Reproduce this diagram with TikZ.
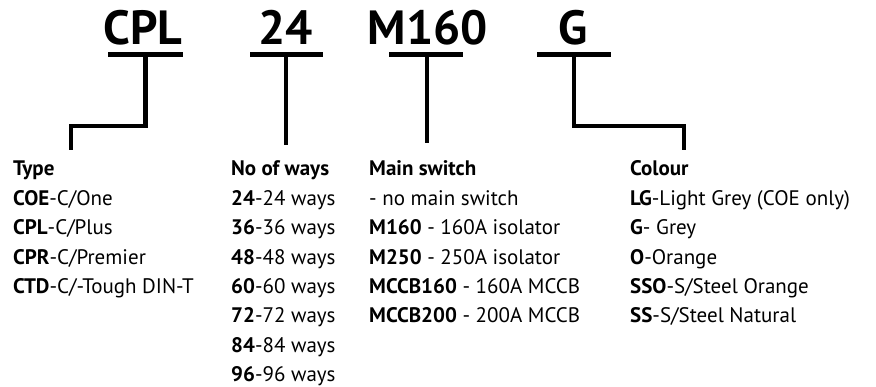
\documentclass[tikz,border=0pt]{standalone}
\usepackage{fontspec}
\setmainfont{PT Sans}
\begin{document}
\begin{tikzpicture}[x=1pt,y=-1pt,
  code/.style={font=\fontsize{48}{48}\selectfont\bfseries, inner sep=0pt, anchor=base},
  txt/.style={font=\fontsize{21}{21}\selectfont, inner sep=0pt, anchor=base west},
  bar/.style={line width=5pt},
  conn/.style={line width=4.5pt, line cap=butt, line join=miter}]
\useasboundingbox (0,0) rectangle (876,387);
% codes
\node[code] (cpl) at (143,45) {CPL};
\node[code] (ways) at (285.5,45) {24};
\node[code] (sw) at (428,45) {M160};
\node[code] (col) at (573.5,45) {G};
% bars
\coordinate (b1l) at (108,55); \coordinate (b1r) at (183,55);
\coordinate (b2l) at (250,55); \coordinate (b2r) at (323,55);
\coordinate (b3l) at (389,55); \coordinate (b3r) at (463,55);
\coordinate (b4l) at (537,55); \coordinate (b4r) at (611,55);
\draw[bar] (b1l) -- (b1r);
\draw[bar] (b2l) -- (b2r);
\draw[bar] (b3l) -- (b3r);
\draw[bar] (b4l) -- (b4r);
% connector points
\coordinate (s1) at (145.5,55); \coordinate (k1) at (145.5,126); \coordinate (k1b) at (71,126); \coordinate (e1) at (71,150);
\coordinate (s2) at (286,55); \coordinate (e2) at (286,145);
\coordinate (s3) at (427,55); \coordinate (e3) at (427,143);
\coordinate (s4) at (574,55); \coordinate (k4) at (574,126); \coordinate (k4b) at (684,126); \coordinate (e4) at (684,150);
\draw[conn] (s1) -- (k1) -- (k1b) -- (e1);
\draw[conn] (s2) -- (e2);
\draw[conn] (s3) -- (e3);
\draw[conn] (s4) -- (k4) -- (k4b) -- (e4);
% columns
\foreach \t [count=\i from 0] in {\textbf{Type},\textbf{COE}-C/One,\textbf{CPL}-C/Plus,\textbf{CPR}-C/Premier,\textbf{CTD}-C/-Tough DIN-T}
  \node[txt] (ty\i) at (13,{176+29.4*\i}) {\t};
\foreach \t [count=\i from 0] in {\textbf{No of ways},\textbf{24}-24 ways,\textbf{36}-36 ways,\textbf{48}-48 ways,\textbf{60}-60 ways,\textbf{72}-72 ways,\textbf{84}-84 ways,\textbf{96}-96 ways}
  \node[txt] (nw\i) at (231,{176+29.4*\i}) {\t};
\foreach \t [count=\i from 0] in {\textbf{Main switch},- no main switch,\textbf{M160} - 160A isolator,\textbf{M250} - 250A isolator,\textbf{MCCB160} - 160A MCCB,\textbf{MCCB200} - 200A MCCB}
  \node[txt] (ms\i) at (369,{176+29.4*\i}) {\t};
\foreach \t [count=\i from 0] in {\textbf{Colour},\textbf{LG}-Light Grey (COE only),\textbf{G}- Grey,\textbf{O}-Orange,\textbf{SSO}-S/Steel Orange,\textbf{SS}-S/Steel Natural}
  \node[txt] (co\i) at (630,{176+29.4*\i}) {\t};
\end{tikzpicture}
\end{document}
